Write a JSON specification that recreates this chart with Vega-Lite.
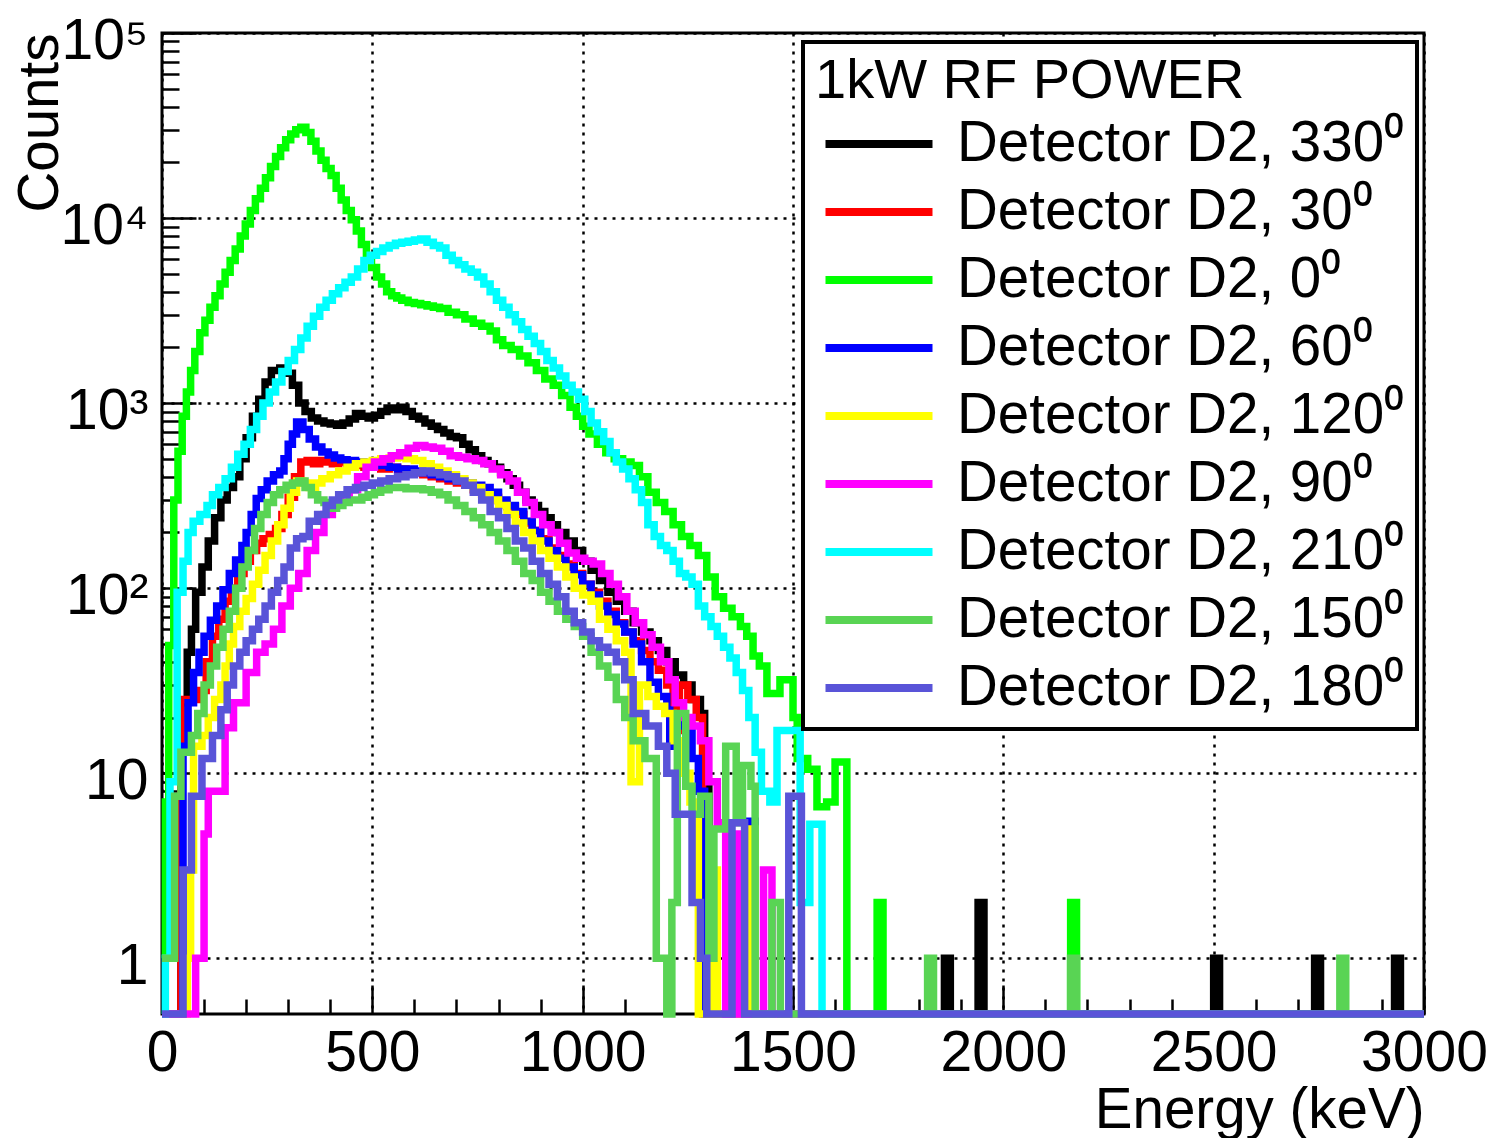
{
"$schema":"https://vega.github.io/schema/vega-lite/v6.json",
"width":1262,"height":981,
"autosize":{"type":"none"},
"padding":{"left":162,"top":33,"right":68,"bottom":124},
"background":"white",
"config":{"font":"Liberation Sans","view":{"stroke":"black","strokeWidth":3}},
"data":{"values":[
{"s":"330","E":0,"c":0.5},{"s":"330","E":45,"c":24},{"s":"330","E":60,"c":45},{"s":"330","E":70,"c":60},{"s":"330","E":80,"c":95},{"s":"330","E":95,"c":130},{"s":"330","E":110,"c":180},{"s":"330","E":125,"c":240},{"s":"330","E":140,"c":300},{"s":"330","E":155,"c":350},{"s":"330","E":170,"c":400},{"s":"330","E":185,"c":500},{"s":"330","E":200,"c":650},{"s":"330","E":215,"c":850},{"s":"330","E":230,"c":1050},{"s":"330","E":245,"c":1300},{"s":"330","E":260,"c":1500},{"s":"330","E":280,"c":1550},{"s":"330","E":295,"c":1450},{"s":"330","E":310,"c":1250},{"s":"330","E":325,"c":1000},{"s":"330","E":340,"c":900},{"s":"330","E":355,"c":830},{"s":"330","E":370,"c":800},{"s":"330","E":385,"c":780},{"s":"330","E":400,"c":770},{"s":"330","E":415,"c":760},{"s":"330","E":430,"c":780},{"s":"330","E":445,"c":820},{"s":"330","E":460,"c":880},{"s":"330","E":475,"c":850},{"s":"330","E":490,"c":830},{"s":"330","E":505,"c":860},{"s":"330","E":520,"c":900},{"s":"330","E":535,"c":940},{"s":"330","E":550,"c":920},{"s":"330","E":565,"c":950},{"s":"330","E":580,"c":900},{"s":"330","E":595,"c":850},{"s":"330","E":610,"c":820},{"s":"330","E":625,"c":780},{"s":"330","E":640,"c":750},{"s":"330","E":655,"c":720},{"s":"330","E":670,"c":690},{"s":"330","E":685,"c":660},{"s":"330","E":700,"c":650},{"s":"330","E":715,"c":600},{"s":"330","E":730,"c":560},{"s":"330","E":745,"c":520},{"s":"330","E":760,"c":490},{"s":"330","E":775,"c":470},{"s":"330","E":790,"c":450},{"s":"330","E":805,"c":420},{"s":"330","E":820,"c":390},{"s":"330","E":835,"c":360},{"s":"330","E":850,"c":330},{"s":"330","E":865,"c":300},{"s":"330","E":880,"c":280},{"s":"330","E":895,"c":260},{"s":"330","E":910,"c":240},{"s":"330","E":925,"c":220},{"s":"330","E":940,"c":200},{"s":"330","E":960,"c":180},{"s":"330","E":980,"c":160},{"s":"330","E":1000,"c":140},{"s":"330","E":1020,"c":125},{"s":"330","E":1040,"c":110},{"s":"330","E":1060,"c":95},{"s":"330","E":1080,"c":85},{"s":"330","E":1100,"c":75},{"s":"330","E":1120,"c":65},{"s":"330","E":1140,"c":58},{"s":"330","E":1160,"c":52},{"s":"330","E":1180,"c":46},{"s":"330","E":1200,"c":40},{"s":"330","E":1220,"c":34},{"s":"330","E":1240,"c":30},{"s":"330","E":1260,"c":25},{"s":"330","E":1280,"c":21},{"s":"330","E":1290,"c":9},{"s":"330","E":1300,"c":0.5},{"s":"330","E":1860,"c":1},{"s":"330","E":1874,"c":0.5},{"s":"330","E":1940,"c":2},{"s":"330","E":1954,"c":0.5},{"s":"330","E":2500,"c":1},{"s":"330","E":2514,"c":0.5},{"s":"330","E":2740,"c":1},{"s":"330","E":2754,"c":0.5},{"s":"330","E":2930,"c":1},{"s":"330","E":2944,"c":0.5},{"s":"330","E":3000,"c":0.5},
{"s":"30","E":0,"c":0.5},{"s":"30","E":45,"c":25},{"s":"30","E":70,"c":25},{"s":"30","E":90,"c":28},{"s":"30","E":105,"c":40},{"s":"30","E":120,"c":55},{"s":"30","E":135,"c":68},{"s":"30","E":150,"c":85},{"s":"30","E":165,"c":100},{"s":"30","E":180,"c":120},{"s":"30","E":195,"c":140},{"s":"30","E":210,"c":160},{"s":"30","E":225,"c":175},{"s":"30","E":240,"c":185},{"s":"30","E":255,"c":195},{"s":"30","E":270,"c":210},{"s":"30","E":285,"c":250},{"s":"30","E":300,"c":310},{"s":"30","E":315,"c":400},{"s":"30","E":330,"c":480},{"s":"30","E":345,"c":490},{"s":"30","E":360,"c":470},{"s":"30","E":375,"c":490},{"s":"30","E":390,"c":480},{"s":"30","E":405,"c":470},{"s":"30","E":420,"c":480},{"s":"30","E":440,"c":470},{"s":"30","E":460,"c":460},{"s":"30","E":480,"c":450},{"s":"30","E":500,"c":450},{"s":"30","E":520,"c":440},{"s":"30","E":540,"c":450},{"s":"30","E":560,"c":440},{"s":"30","E":580,"c":430},{"s":"30","E":600,"c":420},{"s":"30","E":620,"c":410},{"s":"30","E":640,"c":400},{"s":"30","E":660,"c":390},{"s":"30","E":680,"c":380},{"s":"30","E":700,"c":370},{"s":"30","E":720,"c":360},{"s":"30","E":740,"c":340},{"s":"30","E":760,"c":320},{"s":"30","E":780,"c":310},{"s":"30","E":800,"c":295},{"s":"30","E":820,"c":275},{"s":"30","E":840,"c":250},{"s":"30","E":860,"c":225},{"s":"30","E":880,"c":205},{"s":"30","E":900,"c":185},{"s":"30","E":920,"c":165},{"s":"30","E":940,"c":150},{"s":"30","E":960,"c":135},{"s":"30","E":980,"c":120},{"s":"30","E":1000,"c":105},{"s":"30","E":1020,"c":95},{"s":"30","E":1040,"c":85},{"s":"30","E":1060,"c":75},{"s":"30","E":1080,"c":65},{"s":"30","E":1100,"c":58},{"s":"30","E":1120,"c":52},{"s":"30","E":1140,"c":46},{"s":"30","E":1160,"c":40},{"s":"30","E":1180,"c":36},{"s":"30","E":1200,"c":30},{"s":"30","E":1215,"c":17},{"s":"30","E":1230,"c":30},{"s":"30","E":1250,"c":25},{"s":"30","E":1270,"c":20},{"s":"30","E":1285,"c":0.5},{"s":"30","E":3000,"c":0.5},
{"s":"0","E":0,"c":1},{"s":"0","E":8,"c":7},{"s":"0","E":16,"c":49},{"s":"0","E":28,"c":300},{"s":"0","E":38,"c":550},{"s":"0","E":48,"c":850},{"s":"0","E":58,"c":1150},{"s":"0","E":68,"c":1500},{"s":"0","E":78,"c":1900},{"s":"0","E":90,"c":2400},{"s":"0","E":102,"c":2800},{"s":"0","E":114,"c":3300},{"s":"0","E":126,"c":3800},{"s":"0","E":138,"c":4400},{"s":"0","E":150,"c":5100},{"s":"0","E":162,"c":5900},{"s":"0","E":174,"c":6800},{"s":"0","E":186,"c":8000},{"s":"0","E":198,"c":9300},{"s":"0","E":210,"c":11000},{"s":"0","E":222,"c":12700},{"s":"0","E":234,"c":14500},{"s":"0","E":246,"c":16500},{"s":"0","E":258,"c":19000},{"s":"0","E":270,"c":21500},{"s":"0","E":282,"c":24000},{"s":"0","E":294,"c":26500},{"s":"0","E":306,"c":28500},{"s":"0","E":318,"c":30000},{"s":"0","E":330,"c":31000},{"s":"0","E":342,"c":29000},{"s":"0","E":354,"c":26000},{"s":"0","E":366,"c":23000},{"s":"0","E":378,"c":20500},{"s":"0","E":390,"c":18500},{"s":"0","E":402,"c":17000},{"s":"0","E":414,"c":14500},{"s":"0","E":426,"c":12500},{"s":"0","E":438,"c":11000},{"s":"0","E":450,"c":9800},{"s":"0","E":462,"c":8500},{"s":"0","E":474,"c":7200},{"s":"0","E":486,"c":6200},{"s":"0","E":498,"c":5400},{"s":"0","E":510,"c":4800},{"s":"0","E":522,"c":4400},{"s":"0","E":534,"c":4000},{"s":"0","E":546,"c":3800},{"s":"0","E":558,"c":3700},{"s":"0","E":570,"c":3600},{"s":"0","E":585,"c":3500},{"s":"0","E":600,"c":3450},{"s":"0","E":615,"c":3400},{"s":"0","E":630,"c":3350},{"s":"0","E":645,"c":3300},{"s":"0","E":660,"c":3250},{"s":"0","E":680,"c":3100},{"s":"0","E":700,"c":3000},{"s":"0","E":720,"c":2850},{"s":"0","E":740,"c":2700},{"s":"0","E":760,"c":2600},{"s":"0","E":780,"c":2450},{"s":"0","E":795,"c":2200},{"s":"0","E":810,"c":2050},{"s":"0","E":830,"c":1950},{"s":"0","E":850,"c":1800},{"s":"0","E":870,"c":1650},{"s":"0","E":890,"c":1500},{"s":"0","E":910,"c":1350},{"s":"0","E":930,"c":1250},{"s":"0","E":950,"c":1100},{"s":"0","E":970,"c":950},{"s":"0","E":985,"c":850},{"s":"0","E":1000,"c":750},{"s":"0","E":1015,"c":680},{"s":"0","E":1035,"c":600},{"s":"0","E":1055,"c":540},{"s":"0","E":1075,"c":500},{"s":"0","E":1095,"c":480},{"s":"0","E":1115,"c":460},{"s":"0","E":1135,"c":400},{"s":"0","E":1155,"c":330},{"s":"0","E":1175,"c":290},{"s":"0","E":1195,"c":260},{"s":"0","E":1215,"c":220},{"s":"0","E":1235,"c":190},{"s":"0","E":1255,"c":170},{"s":"0","E":1275,"c":150},{"s":"0","E":1295,"c":115},{"s":"0","E":1315,"c":90},{"s":"0","E":1335,"c":78},{"s":"0","E":1355,"c":70},{"s":"0","E":1375,"c":62},{"s":"0","E":1390,"c":55},{"s":"0","E":1405,"c":43},{"s":"0","E":1420,"c":38},{"s":"0","E":1438,"c":27},{"s":"0","E":1469,"c":32},{"s":"0","E":1500,"c":20},{"s":"0","E":1510,"c":12},{"s":"0","E":1535,"c":10.5},{"s":"0","E":1557,"c":6.6},{"s":"0","E":1580,"c":7},{"s":"0","E":1600,"c":11.5},{"s":"0","E":1628,"c":0.5},{"s":"0","E":1700,"c":2},{"s":"0","E":1714,"c":0.5},{"s":"0","E":2160,"c":2},{"s":"0","E":2174,"c":0.5},{"s":"0","E":3000,"c":0.5},
{"s":"60","E":0,"c":0.5},{"s":"60","E":50,"c":14},{"s":"60","E":62,"c":24},{"s":"60","E":75,"c":35},{"s":"60","E":88,"c":45},{"s":"60","E":100,"c":55},{"s":"60","E":115,"c":67},{"s":"60","E":130,"c":80},{"s":"60","E":145,"c":98},{"s":"60","E":160,"c":120},{"s":"60","E":175,"c":142},{"s":"60","E":190,"c":170},{"s":"60","E":200,"c":200},{"s":"60","E":212,"c":250},{"s":"60","E":224,"c":305},{"s":"60","E":236,"c":340},{"s":"60","E":250,"c":380},{"s":"60","E":265,"c":410},{"s":"60","E":280,"c":430},{"s":"60","E":290,"c":500},{"s":"60","E":300,"c":600},{"s":"60","E":310,"c":680},{"s":"60","E":320,"c":790},{"s":"60","E":335,"c":720},{"s":"60","E":350,"c":640},{"s":"60","E":365,"c":580},{"s":"60","E":380,"c":545},{"s":"60","E":395,"c":525},{"s":"60","E":410,"c":505},{"s":"60","E":425,"c":495},{"s":"60","E":440,"c":490},{"s":"60","E":460,"c":480},{"s":"60","E":480,"c":470},{"s":"60","E":500,"c":460},{"s":"60","E":520,"c":460},{"s":"60","E":540,"c":450},{"s":"60","E":560,"c":440},{"s":"60","E":580,"c":440},{"s":"60","E":600,"c":430},{"s":"60","E":620,"c":420},{"s":"60","E":640,"c":410},{"s":"60","E":660,"c":400},{"s":"60","E":680,"c":390},{"s":"60","E":700,"c":380},{"s":"60","E":720,"c":370},{"s":"60","E":740,"c":360},{"s":"60","E":760,"c":350},{"s":"60","E":780,"c":330},{"s":"60","E":800,"c":300},{"s":"60","E":820,"c":280},{"s":"60","E":840,"c":260},{"s":"60","E":860,"c":230},{"s":"60","E":880,"c":205},{"s":"60","E":900,"c":180},{"s":"60","E":920,"c":160},{"s":"60","E":940,"c":145},{"s":"60","E":960,"c":130},{"s":"60","E":980,"c":118},{"s":"60","E":1000,"c":105},{"s":"60","E":1020,"c":92},{"s":"60","E":1040,"c":80},{"s":"60","E":1060,"c":72},{"s":"60","E":1080,"c":64},{"s":"60","E":1100,"c":58},{"s":"60","E":1120,"c":50},{"s":"60","E":1140,"c":40},{"s":"60","E":1160,"c":31},{"s":"60","E":1180,"c":26},{"s":"60","E":1200,"c":22},{"s":"60","E":1207,"c":14},{"s":"60","E":1220,"c":20},{"s":"60","E":1240,"c":18},{"s":"60","E":1260,"c":12},{"s":"60","E":1275,"c":8},{"s":"60","E":1290,"c":0.5},{"s":"60","E":1395,"c":5.5},{"s":"60","E":1410,"c":0.5},{"s":"60","E":3000,"c":0.5},
{"s":"120","E":0,"c":0.5},{"s":"120","E":60,"c":1},{"s":"120","E":68,"c":3},{"s":"120","E":75,"c":14},{"s":"120","E":95,"c":16},{"s":"120","E":110,"c":20},{"s":"120","E":125,"c":25},{"s":"120","E":140,"c":30},{"s":"120","E":150,"c":38},{"s":"120","E":160,"c":50},{"s":"120","E":170,"c":62},{"s":"120","E":185,"c":75},{"s":"120","E":200,"c":88},{"s":"120","E":215,"c":105},{"s":"120","E":230,"c":125},{"s":"120","E":245,"c":150},{"s":"120","E":260,"c":180},{"s":"120","E":275,"c":220},{"s":"120","E":290,"c":270},{"s":"120","E":305,"c":330},{"s":"120","E":320,"c":380},{"s":"120","E":335,"c":370},{"s":"120","E":350,"c":350},{"s":"120","E":365,"c":370},{"s":"120","E":380,"c":390},{"s":"120","E":400,"c":410},{"s":"120","E":420,"c":430},{"s":"120","E":440,"c":450},{"s":"120","E":460,"c":470},{"s":"120","E":480,"c":480},{"s":"120","E":500,"c":490},{"s":"120","E":520,"c":500},{"s":"120","E":540,"c":505},{"s":"120","E":560,"c":510},{"s":"120","E":580,"c":500},{"s":"120","E":600,"c":490},{"s":"120","E":620,"c":470},{"s":"120","E":640,"c":450},{"s":"120","E":660,"c":430},{"s":"120","E":680,"c":410},{"s":"120","E":700,"c":390},{"s":"120","E":720,"c":370},{"s":"120","E":740,"c":350},{"s":"120","E":760,"c":320},{"s":"120","E":780,"c":300},{"s":"120","E":800,"c":280},{"s":"120","E":820,"c":250},{"s":"120","E":840,"c":225},{"s":"120","E":860,"c":200},{"s":"120","E":880,"c":180},{"s":"120","E":900,"c":160},{"s":"120","E":920,"c":145},{"s":"120","E":940,"c":130},{"s":"120","E":960,"c":115},{"s":"120","E":980,"c":100},{"s":"120","E":1000,"c":92},{"s":"120","E":1020,"c":85},{"s":"120","E":1040,"c":68},{"s":"120","E":1060,"c":60},{"s":"120","E":1080,"c":52},{"s":"120","E":1100,"c":45},{"s":"120","E":1115,"c":9},{"s":"120","E":1135,"c":30},{"s":"120","E":1155,"c":26},{"s":"120","E":1175,"c":23},{"s":"120","E":1195,"c":21},{"s":"120","E":1215,"c":15},{"s":"120","E":1235,"c":10},{"s":"120","E":1255,"c":7},{"s":"120","E":1275,"c":0.5},{"s":"120","E":1305,"c":3},{"s":"120","E":1320,"c":0.5},{"s":"120","E":1395,"c":5},{"s":"120","E":1410,"c":0.5},{"s":"120","E":3000,"c":0.5},
{"s":"90","E":0,"c":0.5},{"s":"90","E":80,"c":1},{"s":"90","E":100,"c":4.7},{"s":"90","E":110,"c":8},{"s":"90","E":150,"c":17.6},{"s":"90","E":170,"c":24},{"s":"90","E":200,"c":35},{"s":"90","E":225,"c":45},{"s":"90","E":245,"c":50},{"s":"90","E":265,"c":60},{"s":"90","E":285,"c":80},{"s":"90","E":305,"c":100},{"s":"90","E":325,"c":120},{"s":"90","E":345,"c":160},{"s":"90","E":365,"c":200},{"s":"90","E":385,"c":250},{"s":"90","E":405,"c":290},{"s":"90","E":425,"c":320},{"s":"90","E":445,"c":340},{"s":"90","E":465,"c":400},{"s":"90","E":485,"c":450},{"s":"90","E":505,"c":480},{"s":"90","E":525,"c":500},{"s":"90","E":545,"c":520},{"s":"90","E":565,"c":540},{"s":"90","E":585,"c":570},{"s":"90","E":605,"c":590},{"s":"90","E":625,"c":580},{"s":"90","E":645,"c":570},{"s":"90","E":665,"c":550},{"s":"90","E":685,"c":520},{"s":"90","E":705,"c":510},{"s":"90","E":725,"c":500},{"s":"90","E":745,"c":490},{"s":"90","E":765,"c":470},{"s":"90","E":785,"c":440},{"s":"90","E":805,"c":410},{"s":"90","E":825,"c":380},{"s":"90","E":845,"c":330},{"s":"90","E":865,"c":290},{"s":"90","E":885,"c":250},{"s":"90","E":905,"c":220},{"s":"90","E":925,"c":200},{"s":"90","E":945,"c":175},{"s":"90","E":965,"c":155},{"s":"90","E":985,"c":145},{"s":"90","E":1005,"c":140},{"s":"90","E":1025,"c":135},{"s":"90","E":1045,"c":120},{"s":"90","E":1065,"c":105},{"s":"90","E":1085,"c":90},{"s":"90","E":1105,"c":75},{"s":"90","E":1125,"c":65},{"s":"90","E":1145,"c":56},{"s":"90","E":1165,"c":48},{"s":"90","E":1185,"c":40},{"s":"90","E":1205,"c":32},{"s":"90","E":1220,"c":24},{"s":"90","E":1240,"c":20},{"s":"90","E":1260,"c":18},{"s":"90","E":1280,"c":15},{"s":"90","E":1300,"c":9},{"s":"90","E":1320,"c":5.4},{"s":"90","E":1340,"c":0.5},{"s":"90","E":1355,"c":4.7},{"s":"90","E":1370,"c":0.5},{"s":"90","E":1430,"c":3},{"s":"90","E":1450,"c":0.5},{"s":"90","E":3000,"c":0.5},
{"s":"210","E":0,"c":0.5},{"s":"210","E":8,"c":1},{"s":"210","E":19,"c":9},{"s":"210","E":36,"c":95},{"s":"210","E":50,"c":140},{"s":"210","E":62,"c":200},{"s":"210","E":74,"c":230},{"s":"210","E":90,"c":250},{"s":"210","E":107,"c":280},{"s":"210","E":120,"c":320},{"s":"210","E":135,"c":350},{"s":"210","E":150,"c":390},{"s":"210","E":165,"c":450},{"s":"210","E":180,"c":530},{"s":"210","E":195,"c":600},{"s":"210","E":210,"c":720},{"s":"210","E":225,"c":850},{"s":"210","E":240,"c":1000},{"s":"210","E":255,"c":1150},{"s":"210","E":270,"c":1300},{"s":"210","E":285,"c":1480},{"s":"210","E":300,"c":1700},{"s":"210","E":315,"c":1950},{"s":"210","E":330,"c":2250},{"s":"210","E":345,"c":2600},{"s":"210","E":360,"c":2950},{"s":"210","E":375,"c":3300},{"s":"210","E":390,"c":3600},{"s":"210","E":405,"c":3900},{"s":"210","E":420,"c":4200},{"s":"210","E":435,"c":4500},{"s":"210","E":450,"c":4800},{"s":"210","E":465,"c":5300},{"s":"210","E":480,"c":5900},{"s":"210","E":495,"c":6300},{"s":"210","E":510,"c":6600},{"s":"210","E":525,"c":6900},{"s":"210","E":540,"c":7100},{"s":"210","E":555,"c":7300},{"s":"210","E":570,"c":7400},{"s":"210","E":585,"c":7500},{"s":"210","E":600,"c":7600},{"s":"210","E":615,"c":7700},{"s":"210","E":630,"c":7400},{"s":"210","E":645,"c":7100},{"s":"210","E":660,"c":6900},{"s":"210","E":675,"c":6300},{"s":"210","E":690,"c":5900},{"s":"210","E":705,"c":5600},{"s":"210","E":720,"c":5300},{"s":"210","E":735,"c":5100},{"s":"210","E":750,"c":4800},{"s":"210","E":765,"c":4400},{"s":"210","E":780,"c":4000},{"s":"210","E":795,"c":3600},{"s":"210","E":810,"c":3300},{"s":"210","E":825,"c":3000},{"s":"210","E":840,"c":2750},{"s":"210","E":855,"c":2500},{"s":"210","E":870,"c":2300},{"s":"210","E":885,"c":2100},{"s":"210","E":900,"c":1900},{"s":"210","E":915,"c":1700},{"s":"210","E":930,"c":1550},{"s":"210","E":945,"c":1400},{"s":"210","E":960,"c":1250},{"s":"210","E":975,"c":1150},{"s":"210","E":990,"c":1050},{"s":"210","E":1005,"c":900},{"s":"210","E":1020,"c":780},{"s":"210","E":1035,"c":700},{"s":"210","E":1050,"c":620},{"s":"210","E":1065,"c":540},{"s":"210","E":1080,"c":480},{"s":"210","E":1095,"c":440},{"s":"210","E":1110,"c":390},{"s":"210","E":1125,"c":340},{"s":"210","E":1140,"c":290},{"s":"210","E":1155,"c":220},{"s":"210","E":1170,"c":190},{"s":"210","E":1185,"c":170},{"s":"210","E":1200,"c":160},{"s":"210","E":1215,"c":140},{"s":"210","E":1230,"c":120},{"s":"210","E":1245,"c":115},{"s":"210","E":1260,"c":105},{"s":"210","E":1275,"c":80},{"s":"210","E":1290,"c":70},{"s":"210","E":1305,"c":62},{"s":"210","E":1320,"c":55},{"s":"210","E":1335,"c":48},{"s":"210","E":1350,"c":42},{"s":"210","E":1365,"c":35},{"s":"210","E":1380,"c":28},{"s":"210","E":1395,"c":20},{"s":"210","E":1410,"c":13},{"s":"210","E":1425,"c":8},{"s":"210","E":1445,"c":7},{"s":"210","E":1462,"c":17},{"s":"210","E":1517,"c":2},{"s":"210","E":1540,"c":5.3},{"s":"210","E":1569,"c":0.5},{"s":"210","E":3000,"c":0.5},
{"s":"150","E":0,"c":1},{"s":"150","E":30,"c":7.5},{"s":"150","E":45,"c":13},{"s":"150","E":70,"c":16},{"s":"150","E":85,"c":21},{"s":"150","E":100,"c":30},{"s":"150","E":115,"c":38},{"s":"150","E":130,"c":48},{"s":"150","E":145,"c":60},{"s":"150","E":160,"c":75},{"s":"150","E":175,"c":100},{"s":"150","E":190,"c":130},{"s":"150","E":205,"c":160},{"s":"150","E":220,"c":210},{"s":"150","E":235,"c":250},{"s":"150","E":250,"c":290},{"s":"150","E":265,"c":320},{"s":"150","E":280,"c":340},{"s":"150","E":295,"c":360},{"s":"150","E":310,"c":370},{"s":"150","E":325,"c":380},{"s":"150","E":340,"c":350},{"s":"150","E":355,"c":320},{"s":"150","E":370,"c":300},{"s":"150","E":385,"c":290},{"s":"150","E":400,"c":270},{"s":"150","E":415,"c":280},{"s":"150","E":430,"c":290},{"s":"150","E":445,"c":300},{"s":"150","E":460,"c":300},{"s":"150","E":475,"c":310},{"s":"150","E":490,"c":320},{"s":"150","E":505,"c":330},{"s":"150","E":520,"c":340},{"s":"150","E":540,"c":350},{"s":"150","E":560,"c":350},{"s":"150","E":580,"c":345},{"s":"150","E":600,"c":345},{"s":"150","E":620,"c":340},{"s":"150","E":640,"c":330},{"s":"150","E":660,"c":320},{"s":"150","E":680,"c":300},{"s":"150","E":700,"c":280},{"s":"150","E":720,"c":260},{"s":"150","E":740,"c":240},{"s":"150","E":760,"c":220},{"s":"150","E":780,"c":200},{"s":"150","E":800,"c":180},{"s":"150","E":820,"c":160},{"s":"150","E":840,"c":140},{"s":"150","E":860,"c":120},{"s":"150","E":880,"c":110},{"s":"150","E":900,"c":95},{"s":"150","E":920,"c":85},{"s":"150","E":940,"c":75},{"s":"150","E":960,"c":68},{"s":"150","E":980,"c":62},{"s":"150","E":1000,"c":55},{"s":"150","E":1020,"c":45},{"s":"150","E":1040,"c":38},{"s":"150","E":1060,"c":33},{"s":"150","E":1080,"c":25},{"s":"150","E":1100,"c":20},{"s":"150","E":1120,"c":15},{"s":"150","E":1148,"c":12},{"s":"150","E":1175,"c":1},{"s":"150","E":1200,"c":0.5},{"s":"150","E":1212,"c":2},{"s":"150","E":1225,"c":21},{"s":"150","E":1245,"c":8.5},{"s":"150","E":1260,"c":6},{"s":"150","E":1280,"c":7.5},{"s":"150","E":1300,"c":1},{"s":"150","E":1312,"c":5},{"s":"150","E":1340,"c":14},{"s":"150","E":1365,"c":5.4},{"s":"150","E":1380,"c":11},{"s":"150","E":1400,"c":8.5},{"s":"150","E":1410,"c":0.5},{"s":"150","E":1450,"c":2},{"s":"150","E":1470,"c":0.5},{"s":"150","E":1820,"c":1},{"s":"150","E":1834,"c":0.5},{"s":"150","E":2160,"c":1},{"s":"150","E":2174,"c":0.5},{"s":"150","E":2800,"c":1},{"s":"150","E":2814,"c":0.5},{"s":"150","E":3000,"c":0.5},
{"s":"180","E":0,"c":0.5},{"s":"180","E":50,"c":3},{"s":"180","E":70,"c":7.5},{"s":"180","E":95,"c":12},{"s":"180","E":120,"c":16},{"s":"180","E":140,"c":22},{"s":"180","E":155,"c":30},{"s":"180","E":170,"c":38},{"s":"180","E":185,"c":45},{"s":"180","E":200,"c":52},{"s":"180","E":215,"c":60},{"s":"180","E":230,"c":68},{"s":"180","E":245,"c":80},{"s":"180","E":260,"c":95},{"s":"180","E":275,"c":110},{"s":"180","E":290,"c":130},{"s":"180","E":305,"c":165},{"s":"180","E":320,"c":185},{"s":"180","E":335,"c":190},{"s":"180","E":350,"c":230},{"s":"180","E":370,"c":250},{"s":"180","E":390,"c":280},{"s":"180","E":405,"c":300},{"s":"180","E":420,"c":320},{"s":"180","E":440,"c":340},{"s":"180","E":460,"c":350},{"s":"180","E":480,"c":360},{"s":"180","E":500,"c":370},{"s":"180","E":520,"c":380},{"s":"180","E":540,"c":390},{"s":"180","E":560,"c":400},{"s":"180","E":580,"c":410},{"s":"180","E":600,"c":420},{"s":"180","E":620,"c":430},{"s":"180","E":640,"c":420},{"s":"180","E":660,"c":410},{"s":"180","E":680,"c":400},{"s":"180","E":700,"c":380},{"s":"180","E":720,"c":360},{"s":"180","E":740,"c":330},{"s":"180","E":760,"c":300},{"s":"180","E":780,"c":260},{"s":"180","E":800,"c":240},{"s":"180","E":820,"c":210},{"s":"180","E":840,"c":180},{"s":"180","E":860,"c":165},{"s":"180","E":880,"c":140},{"s":"180","E":900,"c":120},{"s":"180","E":920,"c":105},{"s":"180","E":940,"c":90},{"s":"180","E":960,"c":75},{"s":"180","E":980,"c":65},{"s":"180","E":1000,"c":58},{"s":"180","E":1020,"c":52},{"s":"180","E":1040,"c":48},{"s":"180","E":1060,"c":45},{"s":"180","E":1080,"c":40},{"s":"180","E":1100,"c":32},{"s":"180","E":1120,"c":21},{"s":"180","E":1150,"c":18},{"s":"180","E":1180,"c":14},{"s":"180","E":1200,"c":10},{"s":"180","E":1220,"c":6},{"s":"180","E":1240,"c":6},{"s":"180","E":1260,"c":2},{"s":"180","E":1280,"c":1},{"s":"180","E":1295,"c":0.5},{"s":"180","E":1355,"c":5.4},{"s":"180","E":1385,"c":0.5},{"s":"180","E":1490,"c":7.5},{"s":"180","E":1520,"c":0.5},{"s":"180","E":3000,"c":0.5}
]},
"resolve":{"axis":{"x":"independent","y":"independent"}},
"layer":[
{"mark":{"type":"line","interpolate":"step-after","strokeWidth":7.5,"strokeCap":"butt","strokeJoin":"miter"},
"encoding":{
"x":{"field":"E","type":"quantitative","scale":{"domain":[0,3000],"nice":false,"zero":false},
"axis":{"orient":"bottom","values":[0,500,1000,1500,2000,2500,3000],"format":"d","labelFontSize":57,"labelFont":"Liberation Sans","labelColor":"black","labelFlush":false,"labelOverlap":false,"labelBound":false,"labelPadding":40,"tickSize":-29,"tickWidth":2.5,"tickColor":"black","domain":false,"grid":true,"gridColor":"black","gridDash":[3,6],"gridWidth":2.5,"gridOpacity":1,"title":"Energy (keV)","titleFontSize":56.5,"titleFont":"Liberation Sans","titleFontWeight":"normal","titleColor":"black","titleX":1262,"titleY":113,"titleAlign":"right","titleBaseline":"alphabetic","titleAnchor":null}},
"y":{"field":"c","type":"quantitative","scale":{"type":"log","domain":[0.5,100000],"nice":false},
"axis":{"orient":"left","values":[1,10,100,1000,10000,100000],"labelExpr":"datum.value == 100 ? '10²' : datum.value == 1000 ? '10³' : datum.value == 10000 ? '10⁴' : datum.value == 100000 ? '10⁵' : datum.value == 10 ? '10' : '1'","labelFontSize":57,"labelFont":"Liberation Sans","labelColor":"black","labelOverlap":false,"labelBound":false,"labelFlush":false,"labelPadding":48,"labelOffset":8,"tickSize":-34,"tickWidth":2.5,"tickColor":"black","domain":false,"grid":true,"gridColor":"black","gridDash":[3,6],"gridWidth":2.5,"gridOpacity":1,"title":"Counts","titleFontSize":56.5,"titleFont":"Liberation Sans","titleFontWeight":"normal","titleColor":"black","titleAngle":270,"titleX":-105,"titleY":0,"titleAlign":"right","titleBaseline":"alphabetic","titleAnchor":null}},
"color":{"field":"s","type":"nominal","sort":null,
"scale":{"domain":["330","30","0","60","120","90","210","150","180"],"range":["#000000","#ff0000","#00ff00","#0000ff","#ffff00","#ff00ff","#00ffff","#59d454","#5954d8"]},
"legend":{"orient":"none","legendX":641,"legendY":9,"title":"1kW RF POWER","titleFontSize":56,"titleFont":"Liberation Sans","titleFontWeight":"normal","titleColor":"black","titlePadding":3,"titleLimit":2000,"labelFontSize":56.5,"labelFont":"Liberation Sans","labelColor":"black","labelLimit":2000,"labelOffset":47,"labelExpr":"'Detector D2, ' + datum.label + '⁰'","symbolType":"M-2,0L2,0","symbolStrokeWidth":8,"symbolSize":2862,"symbolOffset":33,"rowPadding":8,"padding":12,"strokeColor":"black","fillColor":"white","encode":{"legend":{"update":{"strokeWidth":{"value":4}}}}}}
}},
{"mark":{"type":"point","opacity":0},
"encoding":{
"x":{"field":"E","type":"quantitative","axis":{"orient":"bottom","values":[100,200,300,400,600,700,800,900,1100,1200,1300,1400,1600,1700,1800,1900,2100,2200,2300,2400,2600,2700,2800,2900],"labels":false,"grid":false,"domain":false,"tickSize":-15,"tickWidth":2.5,"tickColor":"black","title":null}},
"y":{"field":"c","type":"quantitative","axis":{"orient":"left","values":[2,3,4,5,6,7,8,9,20,30,40,50,60,70,80,90,200,300,400,500,600,700,800,900,2000,3000,4000,5000,6000,7000,8000,9000,20000,30000,40000,50000,60000,70000,80000,90000],"labels":false,"grid":false,"domain":false,"tickSize":-17,"tickWidth":2.5,"tickColor":"black","title":null}}
}}
]
}
